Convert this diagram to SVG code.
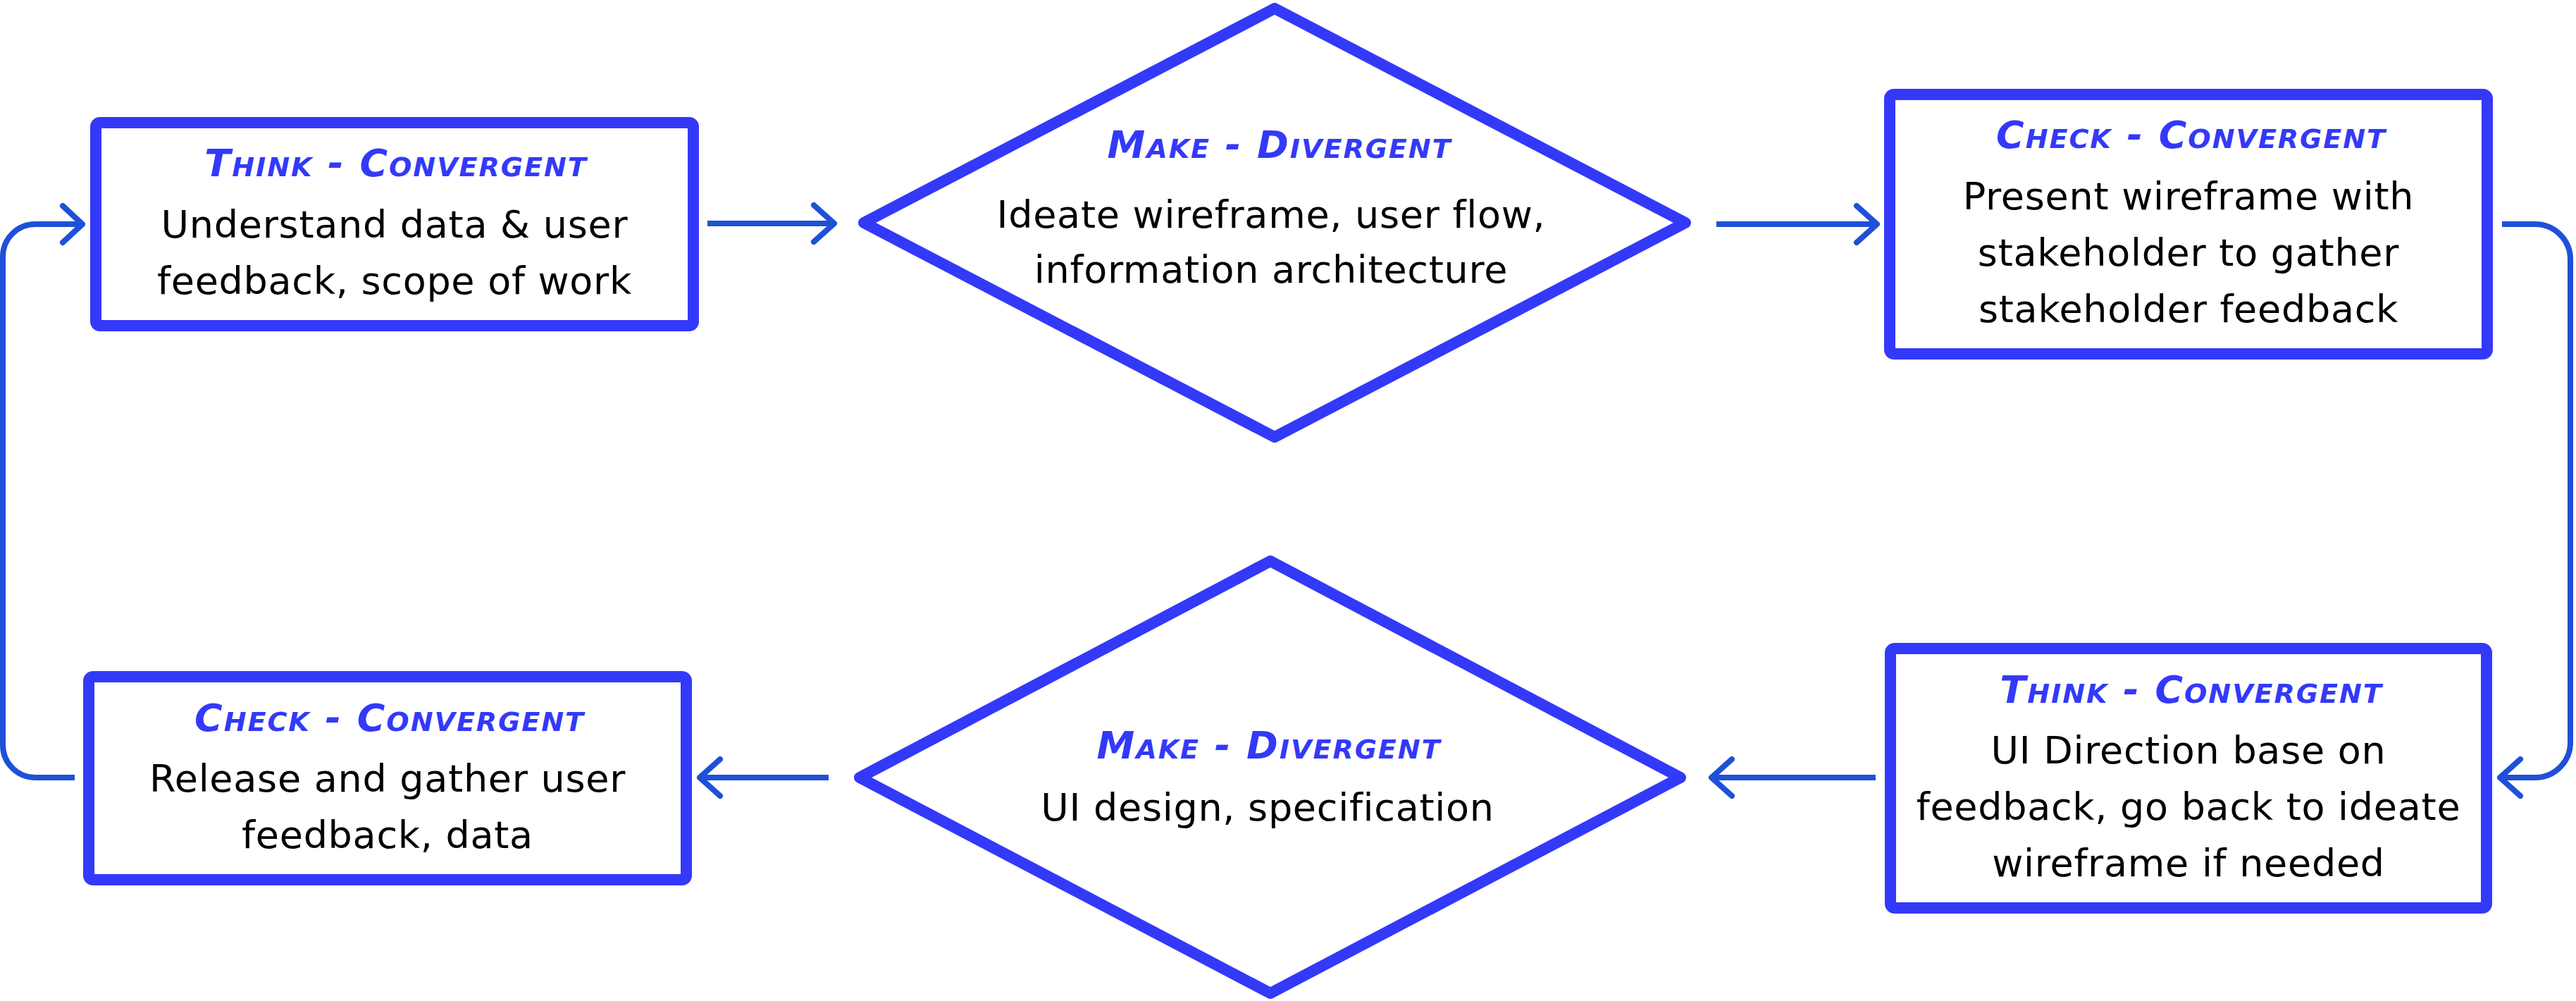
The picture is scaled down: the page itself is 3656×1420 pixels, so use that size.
<svg xmlns="http://www.w3.org/2000/svg" width="3656" height="1420" viewBox="0 0 3656 1420">
  <style>
    .node { fill: #ffffff; stroke: #3339F9; stroke-width: 16; stroke-linejoin: round; }
    .title { font-family: "DejaVu Sans", "Liberation Sans", sans-serif; font-weight: bold; font-style: italic; font-variant: small-caps; font-size: 54px; fill: #3339F9; text-anchor: middle; letter-spacing: 2px; }
    .body { font-family: "DejaVu Sans", "Liberation Sans", sans-serif; font-size: 54px; fill: #000000; text-anchor: middle; letter-spacing: 0.7px; }
    .conn { fill: none; stroke: #1E50D8; stroke-width: 8; stroke-linecap: round; stroke-linejoin: round; }
    .conn-line { fill: none; stroke: #1E50D8; stroke-width: 8; stroke-linecap: butt; stroke-linejoin: round; }
  </style>
  <rect width="3656" height="1420" fill="#ffffff"/>

  <g id="connectors">
    <!-- box1 -> diamond1 -->
    <path class="conn-line" d="M1004 317 H1182"/>
    <path class="conn" d="M1155 291 L1184 317 L1155 343"/>
    <!-- diamond1 -> check box 1 -->
    <path class="conn-line" d="M2436 318 H2662"/>
    <path class="conn" d="M2635 292 L2664 318 L2635 344"/>
    <!-- check box 1 -> think box 2 (right loop) -->
    <path class="conn-line" d="M3551 318 H3598 A50 50 0 0 1 3648 368 V1053 A50 50 0 0 1 3598 1103 H3550"/>
    <path class="conn" d="M3577 1077 L3548 1103 L3577 1129"/>
    <!-- think box 2 -> diamond 2 -->
    <path class="conn-line" d="M2662 1103 H2431"/>
    <path class="conn" d="M2458 1077 L2429 1103 L2458 1129"/>
    <!-- diamond 2 -> check box 2 -->
    <path class="conn-line" d="M1176 1103 H994"/>
    <path class="conn" d="M1022 1077 L993 1103 L1022 1129"/>
    <!-- check box 2 -> box 1 (left loop) -->
    <path class="conn-line" d="M106 1103 H50 A46 46 0 0 1 4 1057 V364 A46 46 0 0 1 50 318 H115"/>
    <path class="conn" d="M89 292 L117 318 L89 344"/>
  </g>

  <g id="think-1">
    <rect class="node" x="136" y="174" width="848" height="288" rx="6"/>
    <text class="title" x="562" y="250">Think - Convergent</text>
    <text class="body" x="560" y="337">Understand data &amp; user</text>
    <text class="body" x="560" y="417">feedback, scope of work</text>
  </g>

  <g id="make-1">
    <polygon class="node" points="1809,12 2392,316 1809,620 1226,316"/>
    <text class="title" x="1816" y="224">Make - Divergent</text>
    <text class="body" x="1804" y="323">Ideate wireframe, user flow,</text>
    <text class="body" x="1804" y="401">information architecture</text>
  </g>

  <g id="check-1">
    <rect class="node" x="2682" y="134" width="848" height="368" rx="6"/>
    <text class="title" x="3110" y="210">Check - Convergent</text>
    <text class="body" x="3106" y="297">Present wireframe with</text>
    <text class="body" x="3106" y="377">stakeholder to gather</text>
    <text class="body" x="3106" y="457">stakeholder feedback</text>
  </g>

  <g id="think-2">
    <rect class="node" x="2683" y="920" width="846" height="368" rx="6"/>
    <text class="title" x="3110" y="997">Think - Convergent</text>
    <text class="body" x="3106" y="1083">UI Direction base on</text>
    <text class="body" x="3106" y="1163">feedback, go back to ideate</text>
    <text class="body" x="3106" y="1243">wireframe if needed</text>
  </g>

  <g id="make-2">
    <polygon class="node" points="1803,796 2385,1103 1803,1409 1220,1103"/>
    <text class="title" x="1801" y="1076">Make - Divergent</text>
    <text class="body" x="1799" y="1164">UI design, specification</text>
  </g>

  <g id="check-2">
    <rect class="node" x="126" y="960" width="848" height="288" rx="6"/>
    <text class="title" x="553" y="1037">Check - Convergent</text>
    <text class="body" x="550" y="1123">Release and gather user</text>
    <text class="body" x="550" y="1203">feedback, data</text>
  </g>
</svg>
